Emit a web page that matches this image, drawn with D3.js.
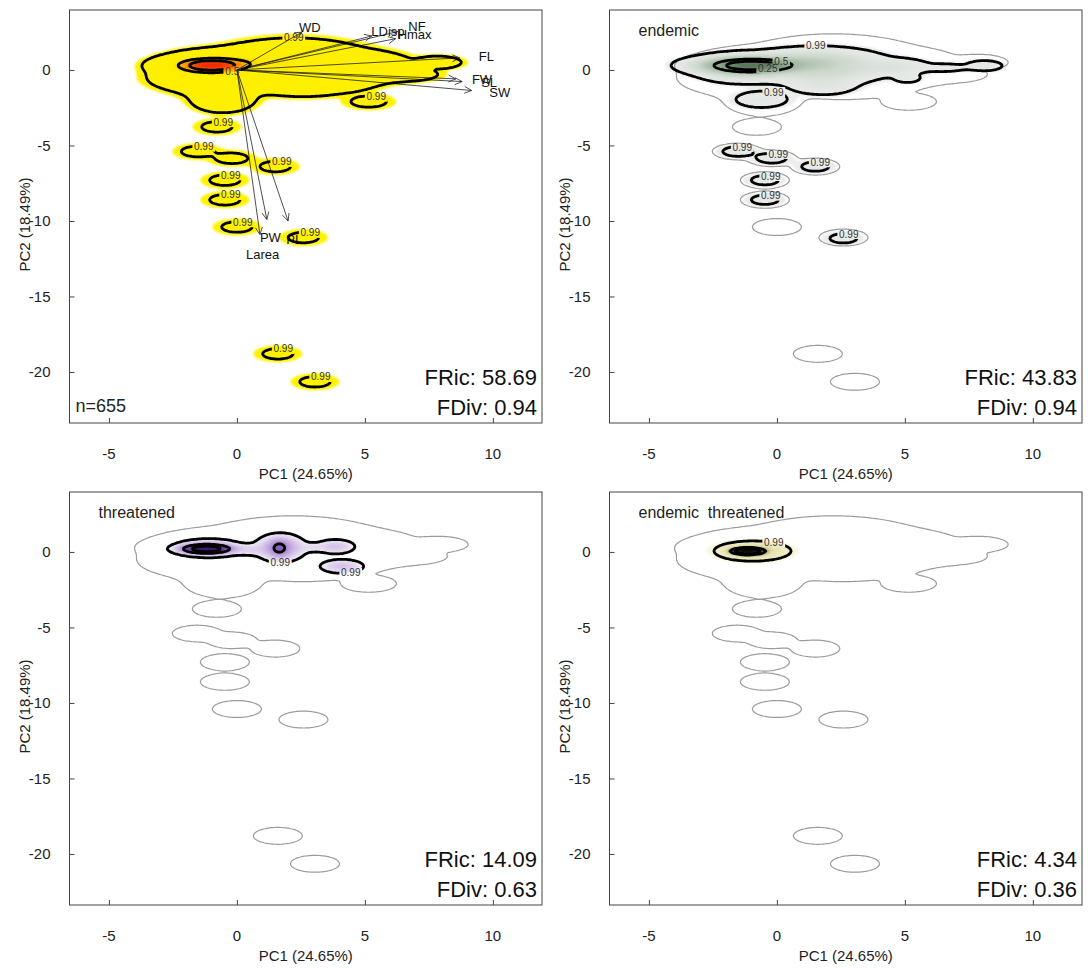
<!DOCTYPE html>
<html>
<head>
<meta charset="utf-8">
<script src="https://cdn.jsdelivr.net/npm/d3@7"></script>
<style>
  body { margin: 0; background: #fff; }
  svg text { font-family: "Liberation Sans", Arial, sans-serif; }
</style>
</head>
<body>
<svg id="chart" width="1088" height="968"></svg>
<script>
// ---- data ----
const xTicks = [-5, 0, 5, 10];
const yTicks = [0, -5, -10, -15, -20];
const xDomain = [-6.54, 11.92];
const yDomain = [-23.38, 3.97];

// density kernels: [PC1, PC2, spread PC1, spread PC2, height]
const allMainKernels = [
  [-1.0, 0.3, 0.75, 0.26, 500],
  [-1.0, 0.25, 0.8, 0.4, 60],
  [2.2, 0.4, 1.2, 0.6, 60],
  [0.9, 0.6, 1.1, 0.35, 50],
  [4.9, 0.15, 0.85, 0.45, 25],
  [7.85, 0.5, 0.45, 0.2, 8],
  [6.7, -0.3, 0.6, 0.22, 6],
  [-0.55, -1.9, 0.55, 0.4, 15],
  [-0.6, -1.0, 0.8, 0.4, 15],
  [-2.0, -0.5, 0.7, 0.4, 10],
  [2.6, -1.0, 0.9, 0.35, 10],
  [4.2, -0.8, 0.6, 0.3, 6]
];
const allOutlierKernels = [
  [-0.78, -3.77, 0.45, 0.26, 2.4],
  [-1.55, -5.4, 0.45, 0.25, 2.6],
  [-0.2, -5.85, 0.45, 0.25, 2.6],
  [1.5, -6.4, 0.45, 0.26, 2.4],
  [-0.47, -7.3, 0.45, 0.26, 2.4],
  [-0.47, -8.6, 0.45, 0.26, 2.4],
  [0.0, -10.4, 0.45, 0.26, 2.4],
  [2.6, -11.1, 0.45, 0.26, 2.4],
  [1.6, -18.8, 0.45, 0.26, 2.4],
  [3.05, -20.65, 0.45, 0.26, 2.4],
  [5.15, -2.1, 0.5, 0.26, 2.6]
];
const endemicKernels = [
  [-1.0, 0.3, 0.9, 0.25, 400],
  [-1.3, 0.15, 0.8, 0.4, 40],
  [1.6, 0.25, 1.15, 0.5, 35],
  [1.0, 0.6, 1.0, 0.3, 20],
  [4.6, 0.2, 0.7, 0.28, 8],
  [8.1, 0.28, 0.42, 0.2, 4],
  [6.6, 0.15, 0.5, 0.16, 3],
  [5.1, -0.55, 0.3, 0.17, 3.5],
  [1.8, -1.0, 0.7, 0.35, 5],
  [-0.6, -1.95, 0.6, 0.32, 4],
  [-1.55, -5.4, 0.45, 0.25, 2.2],
  [-0.2, -5.85, 0.45, 0.25, 2.2],
  [1.5, -6.4, 0.45, 0.26, 2.0],
  [-0.47, -7.3, 0.45, 0.26, 2.0],
  [-0.47, -8.6, 0.45, 0.26, 2.0],
  [2.6, -11.15, 0.45, 0.26, 2.0]
];
const threatenedKernels = [
  [-1.1, 0.25, 0.62, 0.27, 15],
  [-1.2, 0.2, 0.45, 0.14, 150],
  [0.5, 0.15, 0.4, 0.22, 3],
  [1.7, 0.28, 0.45, 0.42, 15],
  [1.65, 0.25, 0.2, 0.3, 20],
  [2.9, 0.3, 0.3, 0.2, 2],
  [3.85, 0.35, 0.4, 0.25, 6],
  [4.1, -0.95, 0.45, 0.24, 6]
];
const endThreatKernels = [
  [-0.95, 0.06, 0.7, 0.31, 10],
  [-1.15, 0.05, 0.3, 0.1, 200]
];

const levelNames = ["0.99", "0.5", "0.25"];
const allLevels = [1, 130, 300];
const endemicLevels = [1, 120, 250];
const threatenedLevels = [1, 25, 80];
const endThreatLevels = [1, 20, 60];
const outlineLevel = 0.25;

const loadingNames = ["WD", "LDisp", "NF", "Hmax", "FL", "FW", "SL", "SW", "Larea", "PW", "PL"];
const loadingX = [2.54, 5.27, 6.28, 6.2, 8.7, 8.55, 8.8, 9.17, 0.9, 1.17, 2.0];
const loadingY = [2.5, 2.25, 2.54, 2.07, 0.8, -0.59, -0.77, -1.36, -10.9, -9.9, -10.0];

const panelTitles = ["", "endemic", "threatened", "endemic\u00a0 threatened"];
const fricValues = ["58.69", "43.83", "14.09", "4.34"];
const fdivValues = ["0.94", "0.94", "0.63", "0.36"];
const sampleSize = "n=655";

// ---- layout ----
const W = 472.5, H = 413;
const origins = [[69.5, 10], [609.5, 10], [69.5, 492], [609.5, 492]];
const x = d3.scaleLinear().domain(xDomain).range([0, W]);
const y = d3.scaleLinear().domain(yDomain).range([H, 0]);
const step = 1.5;
const nx = Math.ceil(W / step), ny = Math.ceil(H / step);

function density(kernels) {
  const v = new Float64Array(nx * ny);
  for (const [cx, cy, sx, sy, h] of kernels) {
    const px = x(cx), py = y(cy);
    const qx = Math.abs(x(cx + sx) - px), qy = Math.abs(y(cy + sy) - py);
    const i0 = Math.max(0, Math.floor((px - 5 * qx) / step)), i1 = Math.min(nx - 1, Math.ceil((px + 5 * qx) / step));
    const j0 = Math.max(0, Math.floor((py - 5 * qy) / step)), j1 = Math.min(ny - 1, Math.ceil((py + 5 * qy) / step));
    for (let j = j0; j <= j1; j++) {
      const dy = ((j + 0.5) * step - py) / qy;
      for (let i = i0; i <= i1; i++) {
        const dx = ((i + 0.5) * step - px) / qx;
        v[j * nx + i] += h * Math.exp(-0.5 * (dx * dx + dy * dy));
      }
    }
  }
  return v;
}

const contourGen = d3.contours().size([nx, ny]);
const path = d3.geoPath(d3.geoIdentity().scale(step));
const fullDensity = density(allMainKernels.concat(allOutlierKernels));

const panels = [
  {kernels: allMainKernels.concat(allOutlierKernels), levels: allLevels, fillFrom: outlineLevel,
   colors: d3.scaleLog().domain([0.25, 80, 125, 200, 320, 600]).range(["#fff200", "#ffee00", "#ffc800", "#ff9800", "#ff5600", "#ec1c00"]).clamp(true),
   sides: ["top", "bottom", null], outline: false, arrows: true},
  {kernels: endemicKernels, levels: endemicLevels, fillFrom: 0.35,
   colors: d3.scaleLog().domain([0.35, 5, 30, 150, 400]).range(["#eceeec", "#e2e6e2", "#cbd8cb", "#8faa8f", "#587558"]).clamp(true),
   sides: ["top", "top", "bottom"], outline: true, arrows: false},
  {kernels: threatenedKernels, levels: threatenedLevels, fillFrom: 0.4,
   colors: d3.scaleLog().domain([0.4, 1.5, 5, 15, 50, 150]).range(["#ffffff", "#f0eaf6", "#d9c8ea", "#b79ad8", "#6a3aa8", "#3a0e70"]).clamp(true),
   sides: ["bottom", null, null], outline: true, arrows: false},
  {kernels: endThreatKernels, levels: endThreatLevels, fillFrom: 0.3,
   colors: d3.scaleLog().domain([0.3, 1, 6, 20, 60, 200]).range(["#fdfcf2", "#f3f0cf", "#e6e0ab", "#8a8660", "#262616", "#000000"]).clamp(true),
   sides: ["top", null, null], outline: true, arrows: false}
];

const svg = d3.select("#chart");
const defs = svg.append("defs");
defs.append("filter").attr("id", "soft").append("feGaussianBlur").attr("stdDeviation", 0.9);

panels.forEach((p, k) => {
  const [ox, oy] = origins[k];
  const g = svg.append("g").attr("transform", `translate(${ox},${oy})`);
  defs.append("clipPath").attr("id", "clip" + k).append("rect").attr("width", W).attr("height", H);
  const inner = g.append("g").attr("clip-path", `url(#clip${k})`);

  const values = density(p.kernels);
  const maxV = d3.max(values);

  // filled density bands
  const nBands = 48;
  const thresholds = d3.range(nBands).map(i => p.fillFrom * Math.pow(maxV / p.fillFrom, i / nBands));
  inner.append("g").attr("filter", "url(#soft)")
    .selectAll("path")
    .data(contourGen.thresholds(thresholds)(values))
    .join("path")
    .attr("d", path)
    .attr("fill", d => p.colors(d.value * 1.05))
    .attr("stroke", "none");

  // outline of the whole pool
  if (p.outline) {
    inner.append("path")
      .datum(contourGen.contour(fullDensity, outlineLevel))
      .attr("d", path)
      .attr("fill", "none")
      .attr("stroke", "#9b9b9b")
      .attr("stroke-width", 1.2);
  }

  // biplot arrows
  if (p.arrows) {
    const ag = inner.append("g");
    const x0 = x(0), y0 = y(0);
    loadingNames.forEach((name, i) => {
      const x1 = x(loadingX[i]), y1 = y(loadingY[i]);
      const ang = Math.atan2(y1 - y0, x1 - x0), a = 8, sp = Math.PI / 7;
      ag.append("path")
        .attr("d", `M${x0},${y0}L${x1},${y1}M${x1 - a * Math.cos(ang - sp)},${y1 - a * Math.sin(ang - sp)}L${x1},${y1}L${x1 - a * Math.cos(ang + sp)},${y1 - a * Math.sin(ang + sp)}`)
        .attr("fill", "none").attr("stroke", "#222").attr("stroke-width", 0.8);
      ag.append("text")
        .attr("x", x(loadingX[i] * 1.12)).attr("y", y(loadingY[i] * 1.12))
        .attr("text-anchor", "middle").attr("dominant-baseline", "central")
        .attr("font-size", 13).attr("fill", "#111").text(name);
    });
  }

  // contour lines with inline labels
  const mask = defs.append("mask").attr("id", "mask" + k).attr("maskUnits", "userSpaceOnUse")
    .attr("x", 0).attr("y", 0).attr("width", W).attr("height", H);
  mask.append("rect").attr("width", W).attr("height", H).attr("fill", "#fff");
  const lines = inner.append("g").attr("mask", `url(#mask${k})`);
  const labels = inner.append("g");

  p.levels.forEach((lv, li) => {
    const geom = contourGen.contour(values, lv);
    lines.append("path").datum(geom).attr("d", path)
      .attr("fill", "none").attr("stroke", "#000").attr("stroke-width", 2.8).attr("stroke-linejoin", "round");
    const side = p.sides[li];
    if (!side) return;
    geom.coordinates.forEach(poly => {
      const ring = poly[0].map(([gx, gy]) => [gx * step, gy * step]);
      const ext = d3.extent(ring, d => d[0]);
      if (ext[1] - ext[0] < 14) return;
      const cx = (ext[0] + ext[1]) / 2;
      const bias = ext[1] - ext[0] > 90 ? 0.0 : 0.15;
      const score = side === "top" ? d => d[1] - bias * (d[0] - cx) : d => -d[1] - bias * (d[0] - cx);
      const best = d3.least(ring, score);
      const txt = levelNames[li];
      const tw = txt.length * 5.2 + 2;
      mask.append("rect").attr("x", best[0] - tw / 2).attr("y", best[1] - 5).attr("width", tw).attr("height", 10).attr("fill", "#000");
      labels.append("text").attr("x", best[0]).attr("y", best[1])
        .attr("text-anchor", "middle").attr("dominant-baseline", "central")
        .attr("font-size", 10).attr("fill", "#333").text(txt);
    });
  });

  // annotations
  if (panelTitles[k]) {
    g.append("text").attr("x", 29).attr("y", 26).attr("font-size", 16).attr("fill", "#222")
      .style("white-space", "pre").text(panelTitles[k]);
  }
  if (k === 0) {
    g.append("text").attr("x", 6).attr("y", 402).attr("font-size", 18).attr("fill", "#222").text(sampleSize);
  }
  g.append("text").attr("x", W - 5).attr("y", 375).attr("text-anchor", "end").attr("font-size", 22).attr("fill", "#111")
    .text("FRic: " + fricValues[k]);
  g.append("text").attr("x", W - 5).attr("y", 405).attr("text-anchor", "end").attr("font-size", 22).attr("fill", "#111")
    .text("FDiv: " + fdivValues[k]);

  // frame and axes
  g.append("rect").attr("width", W).attr("height", H).attr("fill", "none").attr("stroke", "#444").attr("stroke-width", 1);
  g.append("g").attr("transform", `translate(0,${H})`)
    .call(d3.axisTop(x).tickValues(xTicks).tickSize(5).tickFormat(""))
    .call(a => a.select(".domain").remove())
    .call(a => a.selectAll("line").attr("stroke", "#444"));
  g.append("g")
    .call(d3.axisRight(y).tickValues(yTicks).tickSize(5).tickFormat(""))
    .call(a => a.select(".domain").remove())
    .call(a => a.selectAll("line").attr("stroke", "#444"));
  g.selectAll(".xlab").data(xTicks).join("text")
    .attr("x", d => x(d)).attr("y", H + 30).attr("text-anchor", "middle").attr("dominant-baseline", "central")
    .attr("font-size", 15).attr("fill", "#222").text(d => d < 0 ? "-" + Math.abs(d) : d);
  g.selectAll(".ylab").data(yTicks).join("text")
    .attr("x", -19).attr("y", d => y(d)).attr("text-anchor", "end").attr("dominant-baseline", "central")
    .attr("font-size", 15).attr("fill", "#222").text(d => d < 0 ? "-" + Math.abs(d) : d);
  g.append("text").attr("x", W / 2).attr("y", H + 50).attr("text-anchor", "middle").attr("dominant-baseline", "central")
    .attr("font-size", 15).attr("fill", "#222").text("PC1 (24.65%)");
  g.append("text").attr("transform", `translate(${-45},${H / 2 + 8}) rotate(-90)`)
    .attr("text-anchor", "middle").attr("dominant-baseline", "central")
    .attr("font-size", 15).attr("fill", "#222").text("PC2 (18.49%)");
});
</script>
</body>
</html>
